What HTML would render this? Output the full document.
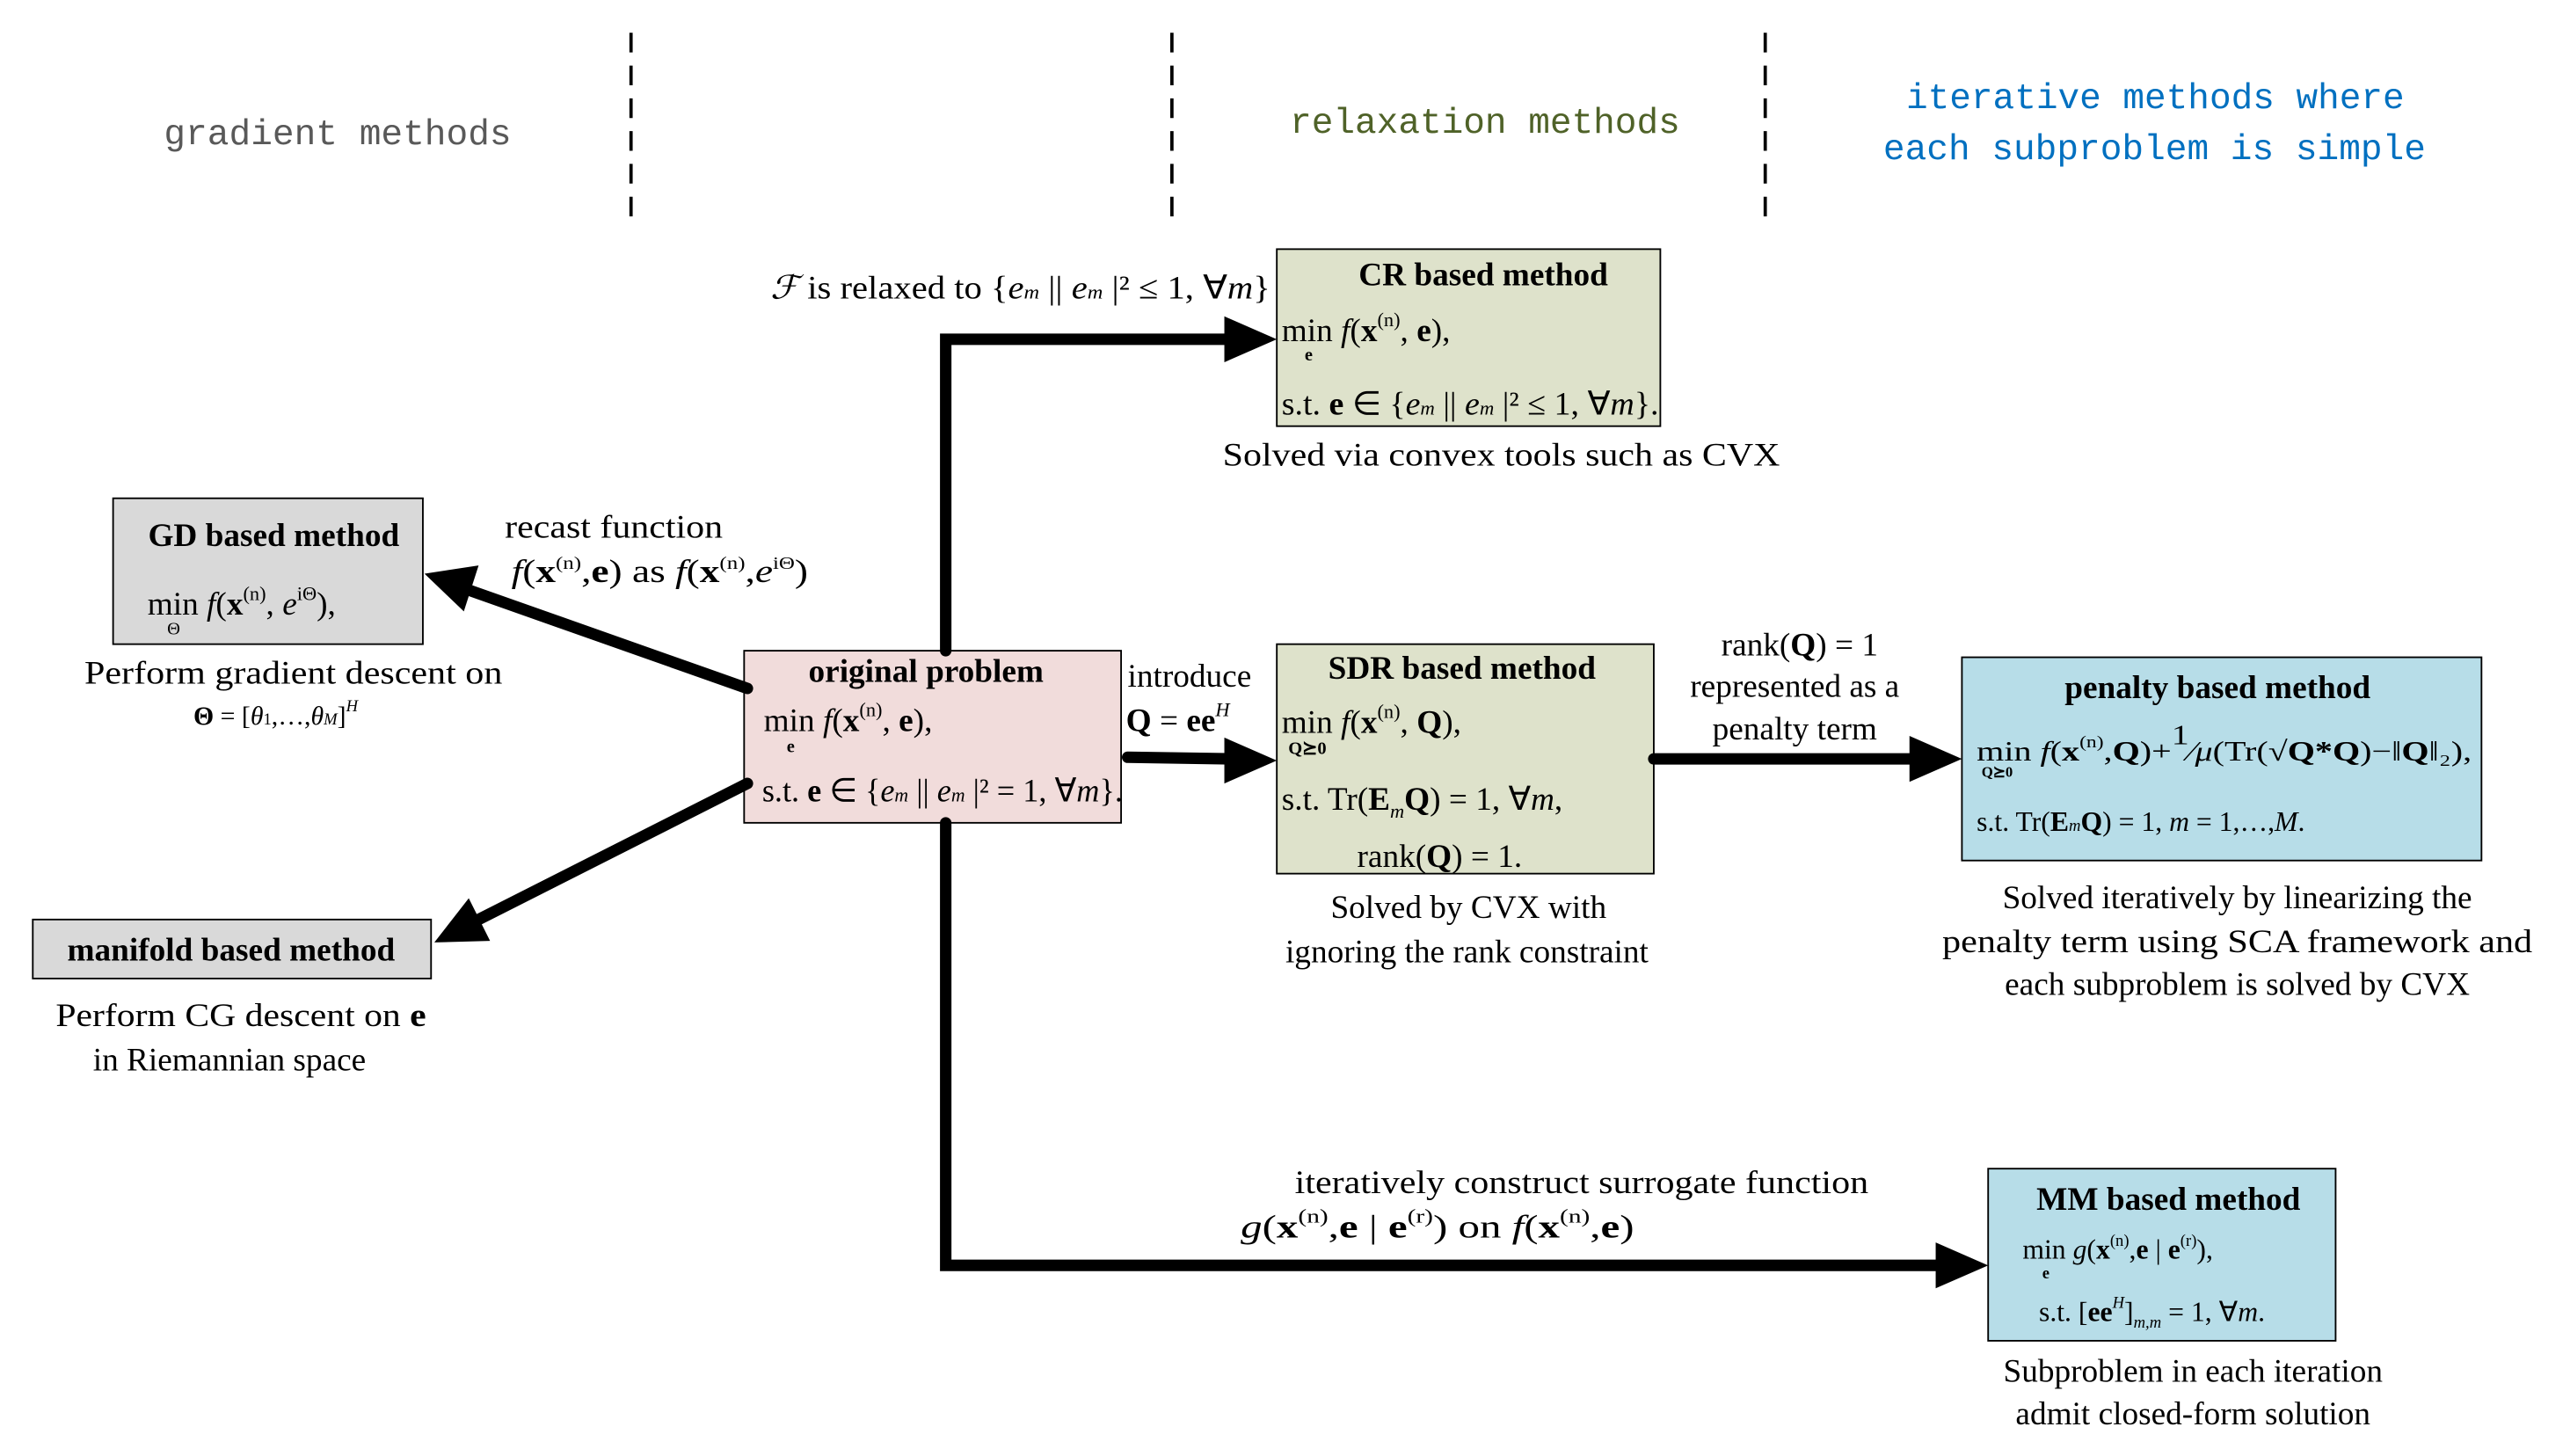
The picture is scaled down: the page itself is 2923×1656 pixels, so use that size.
<!DOCTYPE html>
<html><head><meta charset="utf-8"><style>
html,body{margin:0;padding:0;background:#fff;}
svg{display:block;}
text{font-family:"Liberation Serif",serif;font-size:20px;fill:#000;}
.b{font-weight:bold;}
.m{font-family:"Liberation Mono",monospace;font-size:22px;}
.i{font-style:italic;}
.s{font-size:11px;}
.s17{font-size:17px;}
.s16{font-size:16px;}
.s9{font-size:9px;}
.s10{font-size:10px;}
</style></head><body>
<svg width="2923" height="1656" viewBox="0 0 1568 888.3" preserveAspectRatio="none">
<g stroke="#000" stroke-width="2" stroke-dasharray="12,8">
<line x1="385" y1="20" x2="385" y2="132"/>
<line x1="715" y1="20" x2="715" y2="132"/>
<line x1="1077" y1="20" x2="1077" y2="132"/>
</g>
<text class="m" x="100" y="88" style="fill:#595959" textLength="212" lengthAdjust="spacingAndGlyphs">gradient methods</text>
<text class="m" x="787" y="81" style="fill:#4f6228" textLength="238" lengthAdjust="spacingAndGlyphs">relaxation methods</text>
<text class="m" x="1163" y="66" style="fill:#0070c0" textLength="304" lengthAdjust="spacingAndGlyphs">iterative methods where</text>
<text class="m" x="1149" y="97" style="fill:#0070c0" textLength="331" lengthAdjust="spacingAndGlyphs">each subproblem is simple</text>

<rect x="779" y="152" width="234" height="108" fill="#dee2cb" stroke="#000" stroke-width="1"/>
<rect x="69" y="304" width="189" height="89" fill="#d9d9d9" stroke="#000" stroke-width="1"/>
<rect x="454" y="397" width="230" height="105" fill="#f1dcdb" stroke="#000" stroke-width="1"/>
<rect x="779" y="393" width="230" height="140" fill="#dee2cb" stroke="#000" stroke-width="1"/>
<rect x="1197" y="401" width="317" height="124" fill="#b7dde8" stroke="#000" stroke-width="1"/>
<rect x="20" y="561" width="243" height="36" fill="#d9d9d9" stroke="#000" stroke-width="1"/>
<rect x="1213" y="713" width="212" height="105" fill="#b7dde8" stroke="#000" stroke-width="1"/>

<g stroke="#000" stroke-width="7" fill="none" stroke-linecap="round" stroke-linejoin="miter">
<polyline points="577,397 577,207 752,207"/>
<line x1="456" y1="420" x2="286" y2="360"/>
<line x1="456" y1="478" x2="292" y2="561"/>
<line x1="688" y1="462" x2="752" y2="463"/>
<line x1="1009" y1="463" x2="1170" y2="463"/>
<polyline points="577,502 577,772 1186,772"/>
</g>
<g fill="#000">
<polygon points="779,207 747,193 747,221"/>
<polygon points="259,350 292,345 283,373"/>
<polygon points="265,575 286,548 299,574"/>
<polygon points="779,464 747,450 747,478"/>
<polygon points="1197,463 1165,449 1165,477"/>
<polygon points="1213,772 1181,758 1181,786"/>
</g>

<text class="b" x="905" y="174" text-anchor="middle">CR based method</text>
<text x="782" y="208">min <tspan class="i">f</tspan>(<tspan class="b">x</tspan><tspan font-size="12" dy="-9">(n)</tspan><tspan dy="9">, </tspan><tspan class="b">e</tspan>),</text>
<text x="796" y="220" class="s b">e</text>
<text x="782" y="253" textLength="230" lengthAdjust="spacingAndGlyphs">s.t. <tspan class="b">e</tspan> ∈ {<tspan class="i">e<tspan font-size="12">m</tspan></tspan> || <tspan class="i">e<tspan font-size="12">m</tspan></tspan> |² ≤ 1, ∀<tspan class="i">m</tspan>}.</text>
<text x="916" y="284" text-anchor="middle" textLength="340" lengthAdjust="spacingAndGlyphs">Solved via convex tools such as CVX</text>
<text x="470" y="182" textLength="305" lengthAdjust="spacingAndGlyphs"><tspan class="i">ℱ</tspan>  is relaxed to {<tspan class="i">e<tspan font-size="12">m</tspan></tspan> || <tspan class="i">e<tspan font-size="12">m</tspan></tspan> |² ≤ 1, ∀<tspan class="i">m</tspan>}</text>

<text class="b" x="167" y="333" text-anchor="middle">GD based method</text>
<text x="90" y="375">min <tspan class="i">f</tspan>(<tspan class="b">x</tspan><tspan font-size="12" dy="-9">(n)</tspan><tspan dy="9">, </tspan><tspan class="i">e</tspan><tspan font-size="12" dy="-9">iΘ</tspan><tspan dy="9">),</tspan></text>
<text x="102" y="387" class="s">Θ</text>
<text x="179" y="417" text-anchor="middle" textLength="255" lengthAdjust="spacingAndGlyphs">Perform gradient descent on</text>
<text x="118" y="442" class="s16"><tspan class="b">Θ</tspan> = [<tspan class="i">θ</tspan><tspan font-size="10">1</tspan>,…,<tspan class="i">θ<tspan font-size="10">M</tspan></tspan>]<tspan font-size="10" dy="-8" class="i">H</tspan></text>
<text x="308" y="328" textLength="133" lengthAdjust="spacingAndGlyphs">recast function</text>
<text x="312" y="355" textLength="181" lengthAdjust="spacingAndGlyphs"><tspan class="i">f</tspan>(<tspan class="b">x</tspan><tspan font-size="11" dy="-8">(n)</tspan><tspan dy="8">,</tspan><tspan class="b">e</tspan>) as <tspan class="i">f</tspan>(<tspan class="b">x</tspan><tspan font-size="11" dy="-8">(n)</tspan><tspan dy="8">,</tspan><tspan class="i">e</tspan><tspan font-size="11" dy="-8">iΘ</tspan><tspan dy="8">)</tspan></text>

<text class="b" x="565" y="416" text-anchor="middle">original problem</text>
<text x="466" y="446">min <tspan class="i">f</tspan>(<tspan class="b">x</tspan><tspan font-size="12" dy="-9">(n)</tspan><tspan dy="9">, </tspan><tspan class="b">e</tspan>),</text>
<text x="480" y="459" class="s b">e</text>
<text x="465" y="489" textLength="220" lengthAdjust="spacingAndGlyphs">s.t. <tspan class="b">e</tspan> ∈ {<tspan class="i">e<tspan font-size="12">m</tspan></tspan> || <tspan class="i">e<tspan font-size="12">m</tspan></tspan> |² = 1, ∀<tspan class="i">m</tspan>}.</text>

<text class="b" x="141" y="586" text-anchor="middle">manifold based method</text>
<text x="147" y="626" text-anchor="middle" textLength="226" lengthAdjust="spacingAndGlyphs">Perform CG descent on <tspan class="b">e</tspan></text>
<text x="140" y="653" text-anchor="middle">in Riemannian space</text>

<text x="688" y="419">introduce</text>
<text x="687" y="446"><tspan class="b">Q</tspan> = <tspan class="b">ee</tspan><tspan font-size="12" dy="-9" class="i">H</tspan></text>
<text class="b" x="892" y="414" text-anchor="middle">SDR based method</text>
<text x="782" y="447">min <tspan class="i">f</tspan>(<tspan class="b">x</tspan><tspan font-size="12" dy="-9">(n)</tspan><tspan dy="9">, </tspan><tspan class="b">Q</tspan>),</text>
<text x="786" y="460" class="s b">Q⪰0</text>
<text x="782" y="494">s.t.   Tr(<tspan class="b">E</tspan><tspan font-size="12" class="i" dy="5">m</tspan><tspan class="b" dy="-5">Q</tspan>) = 1, ∀<tspan class="i">m</tspan>,</text>
<text x="828" y="529">rank(<tspan class="b">Q</tspan>) = 1.</text>
<text x="896" y="560" text-anchor="middle">Solved by CVX with</text>
<text x="895" y="587" text-anchor="middle">ignoring the rank constraint</text>

<text x="1098" y="400" text-anchor="middle">rank(<tspan class="b">Q</tspan>) = 1</text>
<text x="1095" y="425" text-anchor="middle">represented as a</text>
<text x="1095" y="451" text-anchor="middle">penalty term</text>
<text class="b" x="1353" y="426" text-anchor="middle">penalty based method</text>
<text x="1206" y="464" class="s17" textLength="302" lengthAdjust="spacingAndGlyphs">min <tspan class="i">f</tspan>(<tspan class="b">x</tspan><tspan font-size="10" dy="-8">(n)</tspan><tspan dy="8">,</tspan><tspan class="b">Q</tspan>)+<tspan dy="-10">1</tspan><tspan dy="10">⁄</tspan><tspan class="i">μ</tspan>(Tr(√<tspan class="b">Q*Q</tspan>)−‖<tspan class="b">Q</tspan>‖₂),</text>
<text x="1209" y="474" class="s9 b">Q⪰0</text>
<text x="1206" y="507" class="s17">s.t. Tr(<tspan class="b">E</tspan><tspan font-size="10" class="i">m</tspan><tspan class="b">Q</tspan>) = 1, <tspan class="i">m</tspan> = 1,…,<tspan class="i">M</tspan>.</text>
<text x="1365" y="554" text-anchor="middle">Solved iteratively by linearizing the</text>
<text x="1365" y="581" text-anchor="middle" textLength="360" lengthAdjust="spacingAndGlyphs">penalty term using SCA framework and</text>
<text x="1365" y="607" text-anchor="middle">each subproblem is solved by CVX</text>

<text x="965" y="728" text-anchor="middle" textLength="350" lengthAdjust="spacingAndGlyphs">iteratively construct surrogate function</text>
<text x="757" y="755" textLength="240" lengthAdjust="spacingAndGlyphs"><tspan class="i">g</tspan>(<tspan class="b">x</tspan><tspan font-size="12" dy="-9">(n)</tspan><tspan dy="9">,</tspan><tspan class="b">e</tspan> | <tspan class="b">e</tspan><tspan font-size="12" dy="-9">(r)</tspan><tspan dy="9">) on </tspan><tspan class="i">f</tspan>(<tspan class="b">x</tspan><tspan font-size="12" dy="-9">(n)</tspan><tspan dy="9">,</tspan><tspan class="b">e</tspan>)</text>
<text class="b" x="1323" y="738" text-anchor="middle">MM based method</text>
<text x="1234" y="768" class="s17">min  <tspan class="i">g</tspan>(<tspan class="b">x</tspan><tspan font-size="10" dy="-8">(n)</tspan><tspan dy="8">,</tspan><tspan class="b">e</tspan> | <tspan class="b">e</tspan><tspan font-size="10" dy="-8">(r)</tspan><tspan dy="8">),</tspan></text>
<text x="1246" y="780" class="s10 b">e</text>
<text x="1244" y="806" class="s17">s.t.    [<tspan class="b">ee</tspan><tspan font-size="10" dy="-8" class="i">H</tspan><tspan dy="8">]</tspan><tspan font-size="10" class="i" dy="4">m,m</tspan><tspan dy="-4"> = 1, ∀</tspan><tspan class="i">m</tspan>.</text>
<text x="1338" y="843" text-anchor="middle">Subproblem in each iteration</text>
<text x="1338" y="869" text-anchor="middle">admit closed-form solution</text>
</svg>
</body></html>
